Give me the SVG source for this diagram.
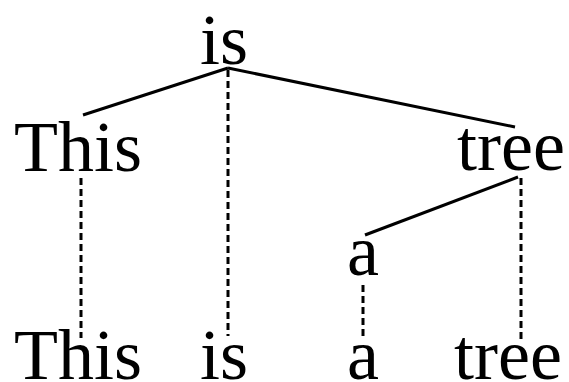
<svg xmlns="http://www.w3.org/2000/svg" width="569" height="382" viewBox="0 0 569 382">
<style>
text{font-family:"Liberation Serif","Times New Roman",serif;font-size:72px;fill:#000}
.s{stroke:#000;stroke-width:3;fill:none}
.d{stroke:#000;stroke-width:3;fill:none;stroke-dasharray:7 4}
</style>
<rect width="569" height="382" fill="#fff"/>
<g id="connectors">
<line class="s" x1="228" y1="68" x2="83" y2="115"/>
<line class="s" x1="228" y1="68" x2="515" y2="127"/>
<line class="s" x1="518" y1="177" x2="365" y2="235"/>
<line class="d" x1="81" y1="178" x2="81" y2="338"/>
<line class="d" x1="228" y1="70" x2="228" y2="336"/>
<line class="d" x1="363" y1="285" x2="363" y2="340"/>
<line class="d" x1="521" y1="178" x2="521" y2="342"/>
</g>
<g id="n-is"><text x="200" y="64">is</text></g>
<g id="n-This"><text x="14" y="171">This</text></g>
<g id="n-tree"><text x="457" y="170">tree</text></g>
<g id="n-a"><text x="347" y="275">a</text></g>
<g id="w-This"><text x="14" y="379">This</text></g>
<g id="w-is"><text x="200" y="379">is</text></g>
<g id="w-a"><text x="347" y="379">a</text></g>
<g id="w-tree"><text x="454" y="379">tree</text></g>
</svg>
